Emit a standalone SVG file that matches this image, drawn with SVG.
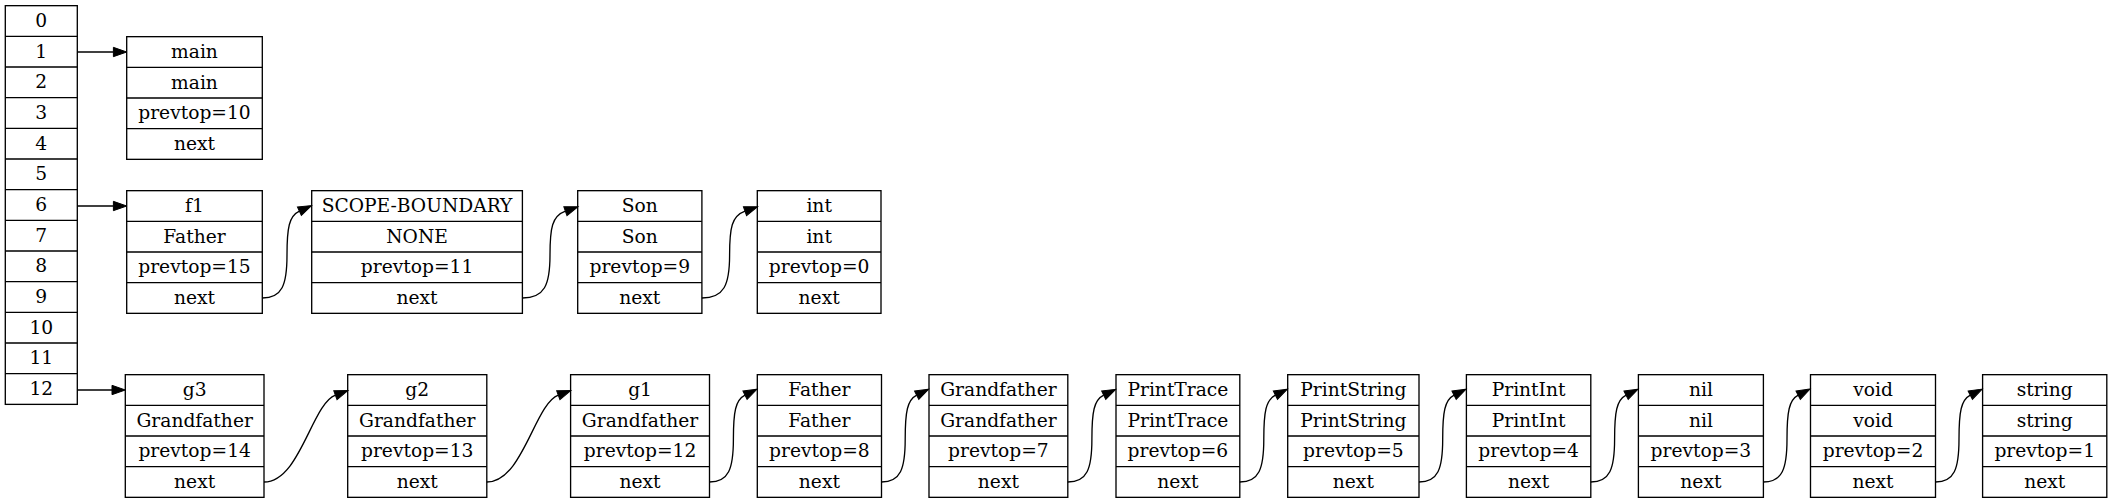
<svg xmlns="http://www.w3.org/2000/svg" width="2112" height="503" viewBox="0 0 2112 503">
<style>
.b{fill:#fff;stroke:#000;stroke-width:1.33}
.s{stroke:#000;stroke-width:1.33}
text{font-family:"DejaVu Serif","Liberation Serif",serif;font-size:18.67px;text-anchor:middle;fill:#000}
.e{fill:none;stroke:#000;stroke-width:1.33}
</style>
<defs>
<marker id="ah" markerUnits="userSpaceOnUse" markerWidth="14" markerHeight="10" viewBox="0 0 14 10" refX="0" refY="4.67" orient="auto" overflow="visible"><path d="M0,0 L13.33,4.67 L0,9.33 z" fill="#000" stroke="#000" stroke-width="1"/></marker>
</defs>
<rect width="2112" height="503" fill="#fff"/>
<g id="stack" transform="translate(5.3,5.67)">
<rect class="b" width="72" height="398.7"/>
<path class="s" d="M0,30.67H72M0,61.33H72M0,92H72M0,122.67H72M0,153.33H72M0,184H72M0,214.67H72M0,245.33H72M0,276H72M0,306.67H72M0,337.33H72M0,368H72"/>
<text x="36" y="21.3">0</text><text x="36" y="52">1</text><text x="36" y="82.7">2</text><text x="36" y="113.3">3</text><text x="36" y="144">4</text><text x="36" y="174.7">5</text><text x="36" y="205.3">6</text><text x="36" y="236">7</text><text x="36" y="266.7">8</text><text x="36" y="297.3">9</text><text x="36" y="328">10</text><text x="36" y="358.7">11</text><text x="36" y="389.3">12</text>
</g>
<g id="main" transform="translate(126.7,36.67)"><rect class="b" width="135.6" height="122.67"/><path class="s" d="M0,30.67H135.6M0,61.33H135.6M0,92H135.6"/><text x="67.8" y="21.3">main</text><text x="67.8" y="52">main</text><text x="67.8" y="82.7">prevtop=10</text><text x="67.8" y="113.3">next</text></g>
<g id="f1" transform="translate(126.7,190.67)"><rect class="b" width="135.6" height="122.67"/><path class="s" d="M0,30.67H135.6M0,61.33H135.6M0,92H135.6"/><text x="67.8" y="21.3">f1</text><text x="67.8" y="52">Father</text><text x="67.8" y="82.7">prevtop=15</text><text x="67.8" y="113.3">next</text></g>
<g id="scope" transform="translate(311.7,190.67)"><rect class="b" width="210.7" height="122.67"/><path class="s" d="M0,30.67H210.7M0,61.33H210.7M0,92H210.7"/><text x="105.35" y="21.3">SCOPE-BOUNDARY</text><text x="105.35" y="52">NONE</text><text x="105.35" y="82.7">prevtop=11</text><text x="105.35" y="113.3">next</text></g>
<g id="son" transform="translate(577.7,190.67)"><rect class="b" width="124.2" height="122.67"/><path class="s" d="M0,30.67H124.2M0,61.33H124.2M0,92H124.2"/><text x="62.1" y="21.3">Son</text><text x="62.1" y="52">Son</text><text x="62.1" y="82.7">prevtop=9</text><text x="62.1" y="113.3">next</text></g>
<g id="int" transform="translate(757.3,190.67)"><rect class="b" width="123.7" height="122.67"/><path class="s" d="M0,30.67H123.7M0,61.33H123.7M0,92H123.7"/><text x="61.85" y="21.3">int</text><text x="61.85" y="52">int</text><text x="61.85" y="82.7">prevtop=0</text><text x="61.85" y="113.3">next</text></g>
<g id="g3" transform="translate(125.3,374.67)"><rect class="b" width="138.7" height="122.67"/><path class="s" d="M0,30.67H138.7M0,61.33H138.7M0,92H138.7"/><text x="69.35" y="21.3">g3</text><text x="69.35" y="52">Grandfather</text><text x="69.35" y="82.7">prevtop=14</text><text x="69.35" y="113.3">next</text></g>
<g id="g2" transform="translate(347.7,374.67)"><rect class="b" width="139.1" height="122.67"/><path class="s" d="M0,30.67H139.1M0,61.33H139.1M0,92H139.1"/><text x="69.55" y="21.3">g2</text><text x="69.55" y="52">Grandfather</text><text x="69.55" y="82.7">prevtop=13</text><text x="69.55" y="113.3">next</text></g>
<g id="g1" transform="translate(570.6,374.67)"><rect class="b" width="138.9" height="122.67"/><path class="s" d="M0,30.67H138.9M0,61.33H138.9M0,92H138.9"/><text x="69.45" y="21.3">g1</text><text x="69.45" y="52">Grandfather</text><text x="69.45" y="82.7">prevtop=12</text><text x="69.45" y="113.3">next</text></g>
<g id="father" transform="translate(757.3,374.67)"><rect class="b" width="124.2" height="122.67"/><path class="s" d="M0,30.67H124.2M0,61.33H124.2M0,92H124.2"/><text x="62.1" y="21.3">Father</text><text x="62.1" y="52">Father</text><text x="62.1" y="82.7">prevtop=8</text><text x="62.1" y="113.3">next</text></g>
<g id="grandfather" transform="translate(929,374.67)"><rect class="b" width="138.8" height="122.67"/><path class="s" d="M0,30.67H138.8M0,61.33H138.8M0,92H138.8"/><text x="69.4" y="21.3">Grandfather</text><text x="69.4" y="52">Grandfather</text><text x="69.4" y="82.7">prevtop=7</text><text x="69.4" y="113.3">next</text></g>
<g id="printtrace" transform="translate(1116,374.67)"><rect class="b" width="123.8" height="122.67"/><path class="s" d="M0,30.67H123.8M0,61.33H123.8M0,92H123.8"/><text x="61.9" y="21.3">PrintTrace</text><text x="61.9" y="52">PrintTrace</text><text x="61.9" y="82.7">prevtop=6</text><text x="61.9" y="113.3">next</text></g>
<g id="printstring" transform="translate(1287.7,374.67)"><rect class="b" width="131.3" height="122.67"/><path class="s" d="M0,30.67H131.3M0,61.33H131.3M0,92H131.3"/><text x="65.65" y="21.3">PrintString</text><text x="65.65" y="52">PrintString</text><text x="65.65" y="82.7">prevtop=5</text><text x="65.65" y="113.3">next</text></g>
<g id="printint" transform="translate(1466.4,374.67)"><rect class="b" width="124.4" height="122.67"/><path class="s" d="M0,30.67H124.4M0,61.33H124.4M0,92H124.4"/><text x="62.2" y="21.3">PrintInt</text><text x="62.2" y="52">PrintInt</text><text x="62.2" y="82.7">prevtop=4</text><text x="62.2" y="113.3">next</text></g>
<g id="nil" transform="translate(1638.4,374.67)"><rect class="b" width="125" height="122.67"/><path class="s" d="M0,30.67H125M0,61.33H125M0,92H125"/><text x="62.5" y="21.3">nil</text><text x="62.5" y="52">nil</text><text x="62.5" y="82.7">prevtop=3</text><text x="62.5" y="113.3">next</text></g>
<g id="void" transform="translate(1810.5,374.67)"><rect class="b" width="125" height="122.67"/><path class="s" d="M0,30.67H125M0,61.33H125M0,92H125"/><text x="62.5" y="21.3">void</text><text x="62.5" y="52">void</text><text x="62.5" y="82.7">prevtop=2</text><text x="62.5" y="113.3">next</text></g>
<g id="string" transform="translate(1982.6,374.67)"><rect class="b" width="124.2" height="122.67"/><path class="s" d="M0,30.67H124.2M0,61.33H124.2M0,92H124.2"/><text x="62.1" y="21.3">string</text><text x="62.1" y="52">string</text><text x="62.1" y="82.7">prevtop=1</text><text x="62.1" y="113.3">next</text></g>
<g id="connectors" marker-end="url(#ah)">
<path class="e" marker-end="url(#ah)" d="M77.3,52 L113.4,52"/>
<path class="e" marker-end="url(#ah)" d="M77.3,206 L113.4,206"/>
<path class="e" marker-end="url(#ah)" d="M77.3,390 L112,390"/>
<path class="e" marker-end="url(#ah)" d="M262.3,298 C282.1,298 287,285 287,255 C287,228 289,216 299.4,211.2"/>
<path class="e" marker-end="url(#ah)" d="M522.4,298 C544.5,298 550,285 550,255 C550,228 552,216 565.4,211.2"/>
<path class="e" marker-end="url(#ah)" d="M701.9,298 C724,298 729.6,285 729.6,255 C729.6,228 731.6,216 745,211.2"/>
<path class="e" marker-end="url(#ah)" d="M264,482 C300,482 311.7,404 335.4,395.2"/>
<path class="e" marker-end="url(#ah)" d="M486.8,482 C522.8,482 534.6,404 558.3,395.2"/>
<path class="e" marker-end="url(#ah)" d="M709.5,482 C728.6,482 733.4,469 733.4,439 C733.4,412 735.4,400 745,395.2"/>
<path class="e" marker-end="url(#ah)" d="M881.5,482 C900.5,482 905.2,469 905.2,439 C905.2,412 907.2,400 916.7,395.2"/>
<path class="e" marker-end="url(#ah)" d="M1067.8,482 C1087.1,482 1091.9,469 1091.9,439 C1091.9,412 1093.9,400 1103.7,395.2"/>
<path class="e" marker-end="url(#ah)" d="M1239.8,482 C1259,482 1263.8,469 1263.8,439 C1263.8,412 1265.8,400 1275.4,395.2"/>
<path class="e" marker-end="url(#ah)" d="M1419,482 C1438,482 1442.7,469 1442.7,439 C1442.7,412 1444.7,400 1454.1,395.2"/>
<path class="e" marker-end="url(#ah)" d="M1590.8,482 C1609.8,482 1614.6,469 1614.6,439 C1614.6,412 1616.6,400 1626.1,395.2"/>
<path class="e" marker-end="url(#ah)" d="M1763.4,482 C1782.2,482 1787,469 1787,439 C1787,412 1789,400 1798.2,395.2"/>
<path class="e" marker-end="url(#ah)" d="M1935.5,482 C1954.3,482 1959,469 1959,439 C1959,412 1961,400 1970.3,395.2"/>
</g>
</svg>
